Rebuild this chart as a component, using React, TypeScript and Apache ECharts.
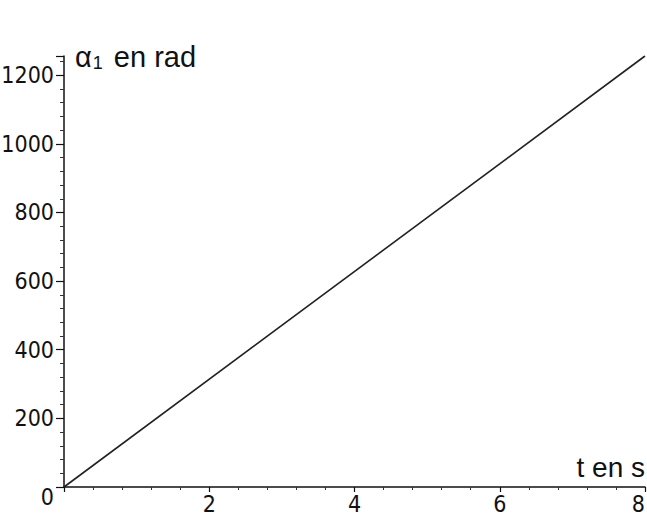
import React, { useEffect, useRef } from "react";
import * as echarts from "echarts";

// Data
const timeValues = [0, 8]; // t en s
const alphaValues = [0, 1256]; // α1 en rad
const xTickInterval = 2;
const yTickInterval = 200;

const FONT = "'Liberation Sans Narrow', 'Arial Narrow', 'DejaVu Sans Condensed', 'Liberation Sans', Arial, sans-serif";
const TITLE_FONT = "'Liberation Sans', Arial, sans-serif";

export default function App() {
  const ref = useRef<HTMLDivElement>(null);
  useEffect(() => {
    if (!ref.current) return;
    const chart = echarts.init(ref.current, undefined, { renderer: "svg" });
    const points = timeValues.map((t, i) => [t, alphaValues[i]]);
    chart.setOption({
      animation: false,
      backgroundColor: "#ffffff",
      grid: { left: 64, right: 2, top: 56, bottom: 30, containLabel: false, outerBoundsMode: "none" },
      xAxis: {
        type: "value",
        min: 0,
        max: timeValues[timeValues.length - 1],
        interval: xTickInterval,
        name: "t en s",
        nameLocation: "end",
        nameGap: 0,
        nameTextStyle: {
          fontFamily: TITLE_FONT,
          fontSize: 28,
          color: "#111",
          align: "right",
          verticalAlign: "bottom",
          padding: [0, 0, 6, 0],
        },
        axisLine: { show: true, onZero: false, lineStyle: { color: "#111", width: 1.5 } },
        axisTick: { show: true, length: 5, lineStyle: { color: "#111", width: 1.2 } },
        minorTick: { show: true, splitNumber: 5, length: 3, lineStyle: { color: "#333", width: 1 } },
        splitLine: { show: false },
        axisLabel: {
          showMinLabel: false,
          alignMaxLabel: "right",
          fontFamily: FONT,
          fontSize: 23,
          color: "#111",
          margin: 5,
        },
      },
      yAxis: {
        type: "value",
        min: 0,
        max: alphaValues[alphaValues.length - 1],
        interval: yTickInterval,
        name: "{a|α}{s|1}{a| en rad}",
        nameLocation: "end",
        nameGap: -16,
        nameTextStyle: {
          align: "left",
          verticalAlign: "bottom",
          padding: [0, 0, 0, 11],
          rich: {
            a: { fontFamily: TITLE_FONT, fontSize: 29, color: "#111" },
            s: { fontFamily: TITLE_FONT, fontSize: 18, color: "#111", padding: [12, 3, 0, 1] },
          },
        },
        axisLine: { show: true, onZero: false, lineStyle: { color: "#111", width: 1.5 } },
        axisTick: { show: true, length: 8, lineStyle: { color: "#111", width: 1.2 } },
        minorTick: { show: true, splitNumber: 5, length: 4, lineStyle: { color: "#333", width: 1 } },
        splitLine: { show: false },
        axisLabel: {
          showMaxLabel: false,
          fontFamily: FONT,
          fontSize: 23,
          color: "#111",
          margin: 10,
          formatter: (v: number) => (v === 0 ? "{z|0}" : v % yTickInterval === 0 ? String(v) : ""),
          rich: {
            z: { fontFamily: FONT, fontSize: 23, color: "#111", padding: [20, 0, 0, 0] },
          },
        },
      },
      series: [
        {
          type: "line",
          data: points,
          symbol: "none",
          lineStyle: { color: "#222", width: 1.6 },
        },
      ],
    });
    return () => chart.dispose();
  }, []);
  return (
    <div
      ref={ref}
      style={{ position: "absolute", left: 0, top: 0, width: 647, height: 517, background: "#fff" }}
    />
  );
}
